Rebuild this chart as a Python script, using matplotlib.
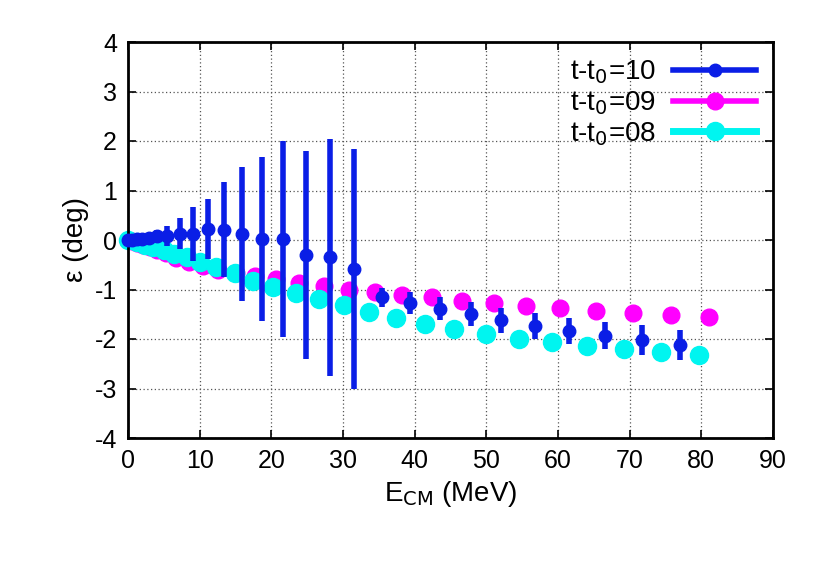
import matplotlib
matplotlib.use("Agg")
import matplotlib.pyplot as plt
from matplotlib.lines import Line2D

plt.rcParams["font.family"] = "Liberation Sans"
plt.rcParams["axes.unicode_minus"] = False

e10 = [0, 0.6, 1.2, 2.0, 2.9, 4.0, 5.5, 7.2, 9.0, 11.1, 13.4, 15.9, 18.7, 21.6, 24.8, 28.2, 31.6,
       35.4, 39.4, 43.5, 47.8, 52.1, 56.8, 61.6, 66.6, 71.7, 77.0]
y10 = [0, 0.01, 0.02, 0.03, 0.05, 0.08, 0.08, 0.13, 0.12, 0.22, 0.21, 0.12, 0.02, 0.02, -0.31, -0.35, -0.59,
       -1.16, -1.28, -1.39, -1.50, -1.62, -1.73, -1.84, -1.93, -2.02, -2.12]
err10 = [0, 0.02, 0.03, 0.05, 0.08, 0.12, 0.2, 0.32, 0.55, 0.6, 0.96, 1.35, 1.65, 1.97, 2.1, 2.4, 2.42,
         0.2, 0.22, 0.23, 0.24, 0.25, 0.26, 0.27, 0.28, 0.3, 0.3]

e09 = [0, 0.6, 1.3, 2.1, 3.0, 4.0, 5.3, 6.7, 8.5, 10.4, 12.5, 15.0, 17.7, 20.7, 23.9, 27.3, 30.8,
       34.5, 38.3, 42.4, 46.6, 51.0, 55.6, 60.3, 65.3, 70.4, 75.7, 81.0]
y09 = [0, -0.03, -0.06, -0.1, -0.15, -0.2, -0.27, -0.36, -0.45, -0.53, -0.6, -0.66, -0.73, -0.79, -0.86, -0.93, -1.0,
       -1.06, -1.11, -1.16, -1.23, -1.28, -1.33, -1.38, -1.43, -1.47, -1.52, -1.56]

e08 = [0, 1.2, 2.4, 3.5, 5.0, 6.4, 8.2, 10.0, 12.3, 14.9, 17.5, 20.3, 23.4, 26.6, 30.1, 33.6, 37.4,
       41.4, 45.5, 49.9, 54.5, 59.2, 64.1, 69.2, 74.4, 79.7]
y08 = [0, -0.05, -0.1, -0.14, -0.21, -0.28, -0.34, -0.45, -0.55, -0.67, -0.82, -0.94, -1.08, -1.19, -1.31, -1.45, -1.57,
       -1.7, -1.8, -1.9, -1.99, -2.07, -2.14, -2.2, -2.27, -2.32]

xticks = list(range(0, 91, 10))
yticks = list(range(-4, 5))

fig = plt.figure(figsize=(8.39, 5.87), dpi=100)
ax = fig.add_axes([128/839, 1-438/587, (773-128)/839, (438-42)/587])
blue, mag, cyan = "#0a1ee6", "#ff00ff", "#00f5f0"
ax.errorbar(e10, y10, yerr=err10, fmt="o", color=blue, ms=9, elinewidth=4, capsize=0, zorder=3,
            clip_on=False)
ax.plot(e09, y09, "o", color=mag, ms=12, zorder=2, clip_on=False)
ax.plot(e08, y08, "o", color=cyan, ms=13, zorder=2.5, clip_on=False)
h = [Line2D([], [], color=blue, lw=4, marker="o", ms=9),
     Line2D([], [], color=mag, lw=4, marker="o", ms=12),
     Line2D([], [], color=cyan, lw=5, marker="o", ms=13)]
ax.legend(h, ["t-t$_0$=10", "t-t$_0$=09", "t-t$_0$=08"], loc="upper right", frameon=False,
          fontsize=20, markerfirst=False, handlelength=3.0, labelspacing=0.1, borderaxespad=0.2,
          handletextpad=0.6)
ax.set_xlim(0, 90)
ax.set_ylim(-4, 4)
ax.set_xticks(xticks)
ax.set_yticks(yticks)
ax.tick_params(labelsize=18, direction="in", length=6, width=1.2, top=True, right=True, pad=8)
for s in ax.spines.values():
    s.set_linewidth(2)
ax.grid(True, linestyle=(0, (1, 2)), color="#555555", linewidth=0.9)
ax.set_xlabel("E$_{\\rm CM}$ (MeV)", fontsize=20)
ax.set_ylabel("ε (deg)", fontsize=20)
fig.savefig("out.png", dpi=100)
